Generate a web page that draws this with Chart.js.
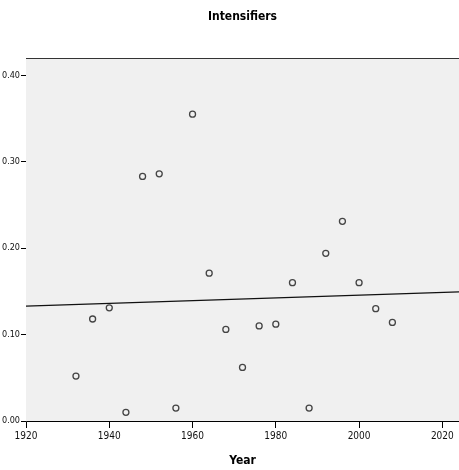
<!DOCTYPE html>
<html>
<head>
<meta charset="utf-8">
<script src="https://cdn.jsdelivr.net/npm/chart.js@4"></script>
<style>
  html, body { margin: 0; padding: 0; background: #fff; }
  #wrap { width: 459px; height: 470px; }
</style>
</head>
<body>
<div id="wrap"><canvas id="scatter" width="459" height="470"></canvas></div>
<script>
// data
const years = [1932, 1936, 1940, 1944, 1948, 1952, 1956, 1960, 1964, 1968,
               1972, 1976, 1980, 1984, 1988, 1992, 1996, 2000, 2004, 2008];
const values = [0.052, 0.118, 0.131, 0.010, 0.283, 0.286, 0.015, 0.355, 0.171, 0.106,
                0.062, 0.110, 0.112, 0.160, 0.015, 0.194, 0.231, 0.160, 0.130, 0.114];
const xTicks = [1920, 1940, 1960, 1980, 2000, 2020];
const yTicks = [0, 0.1, 0.2, 0.3, 0.4];
const xRange = [1920, 2024];
const yRange = [0, 0.42];
const chartTitle = 'Intensifiers';

// least squares fit line (the total fit line in the original)
const n = years.length;
const mx = years.reduce((a, b) => a + b, 0) / n;
const my = values.reduce((a, b) => a + b, 0) / n;
let sxy = 0, sxx = 0;
for (let i = 0; i < n; i++) {
    sxy += (years[i] - mx) * (values[i] - my);
    sxx += (years[i] - mx) * (years[i] - mx);
}
const slope = sxy / sxx;
const fitLine = xRange.map(x => ({x: x, y: my + slope * (x - mx)}));

const points = years.map((y, i) => ({x: y, y: values[i]}));

const narrow = "'Liberation Sans Narrow', 'DejaVu Sans Condensed', 'Roboto Condensed', 'Arial Narrow', 'Liberation Sans', sans-serif";

//grey panel, frame on top, title centred over the panel
const panelBg = {
    id: 'panelBg',
    beforeDatasetsDraw(chart) {
        const {ctx, chartArea: a} = chart;
        ctx.save();
        ctx.fillStyle = '#f0f0f0';
        ctx.fillRect(a.left, a.top, a.right - a.left, a.bottom - a.top);
        ctx.strokeStyle = '#333';
        ctx.lineWidth = 1;
        ctx.beginPath();
        ctx.moveTo(a.left, a.top + 0.5);
        ctx.lineTo(a.right, a.top + 0.5);
        ctx.stroke();
        ctx.restore();
    },
    afterDraw(chart) {
        const {ctx, chartArea: a} = chart;
        ctx.save();
        ctx.fillStyle = '#000';
        ctx.font = "bold 12px " + narrow;
        ctx.textAlign = 'center';
        ctx.textBaseline = 'middle';
        ctx.fillText(chartTitle, (a.left + a.right) / 2, 17);
        ctx.restore();
    }
};

new Chart(document.getElementById('scatter').getContext('2d'), {
    type: 'scatter',
    data: {
        datasets: [{
            data: points,
            pointRadius: 3,
            pointStyle: 'circle',
            pointBackgroundColor: 'rgba(0,0,0,0)',
            pointBorderColor: '#444',
            pointBorderWidth: 1.3,
            order: 1
        }, {
            type: 'line',
            data: fitLine,
            borderColor: '#111',
            borderWidth: 1.2,
            pointRadius: 0,
            fill: false,
            order: 2
        }]
    },
    options: {
        responsive: false,
        animation: false,
        layout: {autoPadding: false, padding: {top: 58, left: 0, right: 0, bottom: 0}}, // panel runs to the right edge
        plugins: {
            legend: {display: false},
            tooltip: {enabled: false},
            title: {display: false}
        },
        scales: {
            x: {
                type: 'linear',
                min: xRange[0],
                max: xRange[1],
                afterBuildTicks: s => { s.ticks = xTicks.map(v => ({value: v})); },
                afterFit: s => { s.height = 49; s.paddingLeft = 0; s.paddingRight = 0; },
                ticks: {
                    color: '#111',
                    font: {family: narrow, size: 10},
                    padding: 2,
                    maxRotation: 0,
                    callback: v => String(v)
                },
                grid: {drawOnChartArea: false, drawTicks: true, tickLength: 7, color: '#000'},
                border: {display: true, color: '#000', width: 1},
                title: {
                    display: true,
                    text: 'Year',
                    color: '#000',
                    font: {family: narrow, size: 12, weight: 'bold'},
                    padding: {top: 4, bottom: 2}
                }
            },
            y: {
                min: yRange[0],
                max: yRange[1],
                afterBuildTicks: s => { s.ticks = yTicks.map(v => ({value: v})); },
                afterFit: s => { s.width = 26; s.paddingTop = 0; s.paddingBottom = 0; },
                ticks: {
                    color: '#111',
                    font: {family: narrow, size: 9},
                    padding: 1,
                    callback: v => Number(v).toFixed(2)
                },
                grid: {drawOnChartArea: false, drawTicks: true, tickLength: 5, color: '#000'},
                border: {display: true, color: '#333', width: 1}
            }
        }
    },
    plugins: [panelBg]
});
</script>
</body>
</html>
